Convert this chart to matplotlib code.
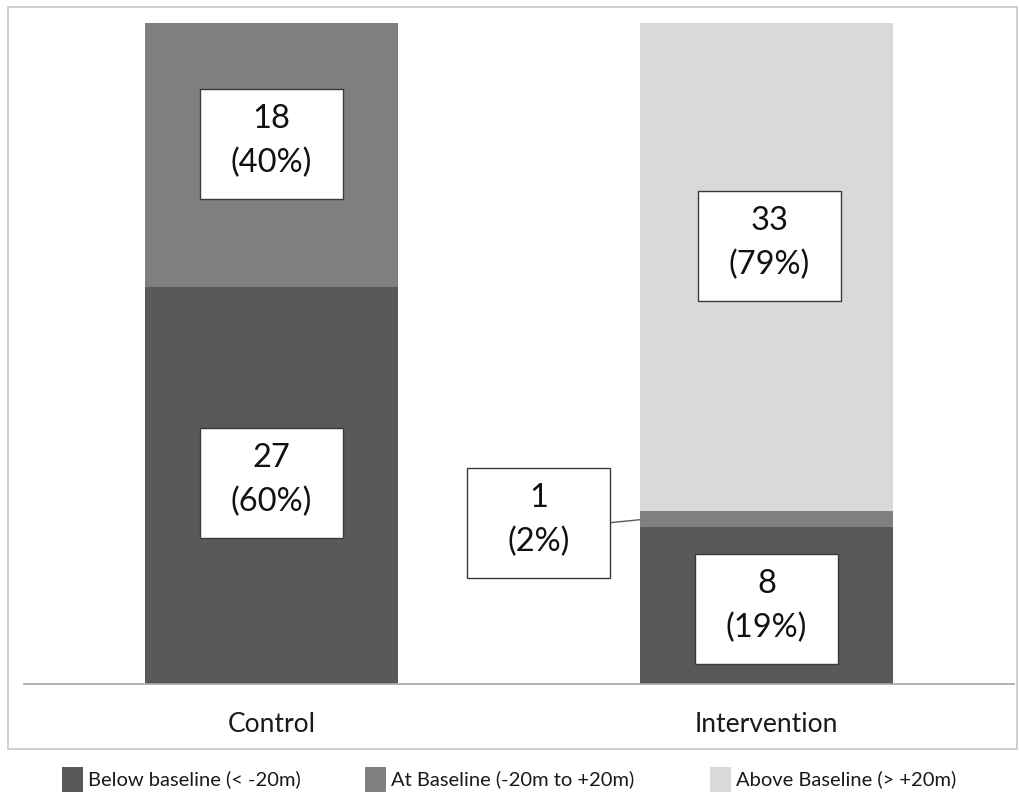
"""Stacked 100% bar chart: change from baseline, control vs intervention."""

import matplotlib

matplotlib.use("Agg")
import matplotlib.pyplot as plt
from matplotlib.patches import Rectangle

plt.rcParams["font.family"] = ["Lato", "DejaVu Sans"]

# Data (segment heights in % as drawn, counts/percent as labelled)
groups = ["Control", "Intervention"]
below_pct = [60.0, 23.8]
at_pct = [40.0, 2.4]
above_pct = [0.0, 73.8]

below_n = [27, 8]
at_n = [18, 1]
above_n = [0, 33]
below_lab = [60, 19]
at_lab = [40, 2]
above_lab = [0, 79]

series_names = [
    "Below baseline (< -20m)",
    "At Baseline (-20m to +20m)",
    "Above Baseline (> +20m)",
]
colors = ["#595959", "#7f7f7f", "#d9d9d9"]

W, H = 1019, 793
fig = plt.figure(figsize=(W / 100, H / 100), dpi=100)

# outer chart border
fig.patches.append(
    Rectangle((8 / W, 1 - 749 / H), 1009 / W, 742 / H, transform=fig.transFigure,
              fill=False, edgecolor="#c8c8c8", lw=1.2)
)

ax = fig.add_axes([24 / W, 1 - 684 / H, 990 / W, 661 / H])
x = range(len(groups))
bw = 0.513
ax.bar(x, below_pct, bw, color=colors[0], zorder=2)
ax.bar(x, at_pct, bw, bottom=below_pct, color=colors[1], zorder=2)
bottoms = [b + a for b, a in zip(below_pct, at_pct)]
ax.bar(x, above_pct, bw, bottom=bottoms, color=colors[2], zorder=2)

ax.set_xlim(-0.5, 1.5)
ax.set_ylim(0, 100)
for side in ["top", "left", "right"]:
    ax.spines[side].set_visible(False)
ax.spines["bottom"].set_color("#a6a6a6")
ax.spines["bottom"].set_linewidth(1.2)
ax.spines["bottom"].set_zorder(3)
ax.set_yticks([])
ax.set_xticks(list(x))
ax.set_xticklabels(groups, fontsize=19, color="#1a1a1a")
ax.tick_params(axis="x", length=0, pad=20)

# data label boxes: (group, y-centre, count, pct)
box_w, box_h = 0.289, 16.64
labels = [
    (0.0, 81.7, at_n[0], at_lab[0]),
    (0.0, 30.4, below_n[0], below_lab[0]),
    (1.006, 66.3, above_n[1], above_lab[1]),
    (0.539, 24.4, at_n[1], at_lab[1]),
    (1.0, 11.35, below_n[1], below_lab[1]),
]
for cx, cy, n, p in labels:
    ax.add_patch(Rectangle((cx - box_w / 2, cy - box_h / 2), box_w, box_h,
                           facecolor="white", edgecolor="#3a3a3a", lw=1, zorder=4))
    ax.annotate(str(n), (cx, cy), xytext=(0, 25), textcoords="offset pixels",
                ha="center", va="center", fontsize=23.5, color="#111111", zorder=5)
    ax.annotate(f"({p}%)", (cx, cy), xytext=(0, -19), textcoords="offset pixels",
                ha="center", va="center", fontsize=23.5, color="#111111", zorder=5)

# leader line for the small segment
ax.plot([0.539 + box_w / 2, 1 - bw / 2], [24.4, 24.85], color="#595959", lw=1,
        zorder=3)

# legend drawn by hand to keep the spacing of the original
leg_x = [62, 365, 710]
for lx, name, col in zip(leg_x, series_names, colors):
    fig.patches.append(
        Rectangle((lx / W, 1 - 792 / H), 21 / W, 25 / H, transform=fig.transFigure,
                  facecolor=col, edgecolor="none")
    )
    fig.text((lx + 26) / W, 1 - 779 / H, name, fontsize=14.5, color="#1a1a1a",
             ha="left", va="center")

fig.savefig("out.png", dpi=100)
